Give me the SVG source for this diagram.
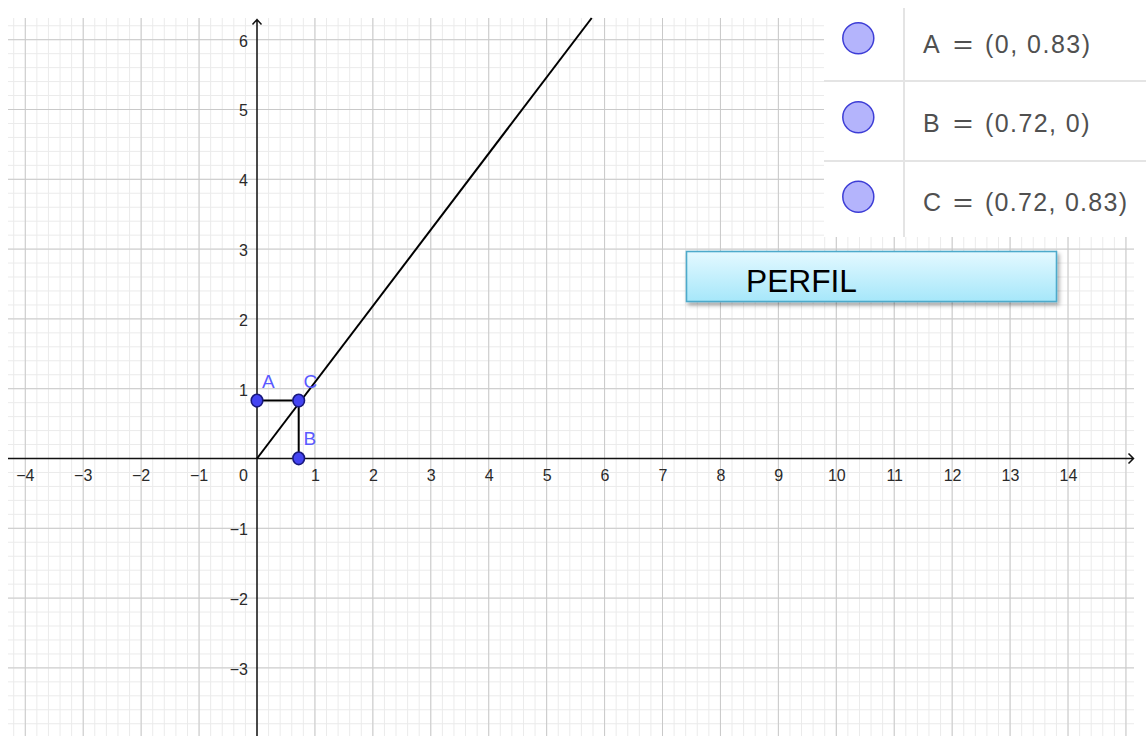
<svg xmlns="http://www.w3.org/2000/svg" width="1146" height="736" viewBox="0 0 1146 736">
<style>
.minor{stroke:#ebebeb;stroke-width:1;fill:none}
.major{stroke:#c9c9c9;stroke-width:1;fill:none}
.axis{stroke:#111;stroke-width:1.5;fill:none}
.lbl{font-family:"Liberation Sans",Arial,sans-serif;font-size:16px;fill:#2a2a2a}
.xl{text-anchor:middle}
.yl{text-anchor:end}
.plbl{font-family:"Liberation Sans",Arial,sans-serif;font-size:19px;fill:#5a5aff}
.pt{fill:#4444f2;stroke:#18187e;stroke-width:1.6}
.seg{stroke:#000;stroke-width:2;fill:none}
.tbl{font-family:"Liberation Sans",Arial,sans-serif;font-size:25px;fill:#505050}
.tc{fill:#b4b4fc;stroke:#3d3dd6;stroke-width:1.5}
.div{stroke:#e4e4e4;stroke-width:2}
</style>
<defs>
<linearGradient id="btnGrad" x1="0" y1="0" x2="0" y2="1">
<stop offset="0" stop-color="#e4f9ff"/>
<stop offset="1" stop-color="#a6e7fa"/>
</linearGradient>
<filter id="shadow" x="-5%" y="-20%" width="110%" height="160%">
<feDropShadow dx="2" dy="3" stdDeviation="2" flood-color="#000" flood-opacity="0.35"/>
</filter>
</defs>
<rect width="1146" height="736" fill="#fff"/>
<g id="grid">
<path class="minor" d="M13.69 18v718
m11.586-718v718m11.586-718v718m11.586-718v718m11.586-718v718m11.586-718v718m11.586-718v718m11.586-718v718m11.586-718v718
m11.586-718v718m11.586-718v718m11.586-718v718m11.586-718v718m11.586-718v718m11.586-718v718m11.586-718v718m11.586-718v718
m11.586-718v718m11.586-718v718m11.586-718v718m11.586-718v718m11.586-718v718m11.586-718v718m11.586-718v718m11.586-718v718
m11.586-718v718m11.586-718v718m11.586-718v718m11.586-718v718m11.586-718v718m11.586-718v718m11.586-718v718m11.586-718v718
m11.586-718v718m11.586-718v718m11.586-718v718m11.586-718v718m11.586-718v718m11.586-718v718m11.586-718v718m11.586-718v718
m11.586-718v718m11.586-718v718m11.586-718v718m11.586-718v718m11.586-718v718m11.586-718v718m11.586-718v718m11.586-718v718
m11.586-718v718m11.586-718v718m11.586-718v718m11.586-718v718m11.586-718v718m11.586-718v718m11.586-718v718m11.586-718v718
m11.586-718v718m11.586-718v718m11.586-718v718m11.586-718v718m11.586-718v718m11.586-718v718m11.586-718v718m11.586-718v718
m11.586-718v718m11.586-718v718m11.586-718v718m11.586-718v718m11.586-718v718m11.586-718v718m11.586-718v718m11.586-718v718
m11.586-718v718m11.586-718v718m11.586-718v718m11.586-718v718m11.586-718v718m11.586-718v718m11.586-718v718m11.586-718v718
m11.586-718v718m11.586-718v718m11.586-718v718m11.586-718v718m11.586-718v718m11.586-718v718m11.586-718v718m11.586-718v718
m11.586-718v718m11.586-718v718m11.586-718v718m11.586-718v718m11.586-718v718m11.586-718v718m11.586-718v718m11.586-718v718"/>
<path class="minor" d="M8 25.74h1126
m-1126 13.96h1126m-1126 13.96h1126m-1126 13.96h1126m-1126 13.96h1126m-1126 13.96h1126m-1126 13.96h1126m-1126 13.96h1126m-1126 13.96h1126m-1126 13.96h1126m-1126 13.96h1126
m-1126 13.96h1126m-1126 13.96h1126m-1126 13.96h1126m-1126 13.96h1126m-1126 13.96h1126m-1126 13.96h1126m-1126 13.96h1126m-1126 13.96h1126m-1126 13.96h1126m-1126 13.96h1126
m-1126 13.96h1126m-1126 13.96h1126m-1126 13.96h1126m-1126 13.96h1126m-1126 13.96h1126m-1126 13.96h1126m-1126 13.96h1126m-1126 13.96h1126m-1126 13.96h1126m-1126 13.96h1126
m-1126 13.96h1126m-1126 13.96h1126m-1126 13.96h1126m-1126 13.96h1126m-1126 13.96h1126m-1126 13.96h1126m-1126 13.96h1126m-1126 13.96h1126m-1126 13.96h1126m-1126 13.96h1126
m-1126 13.96h1126m-1126 13.96h1126m-1126 13.96h1126m-1126 13.96h1126m-1126 13.96h1126m-1126 13.96h1126m-1126 13.96h1126m-1126 13.96h1126m-1126 13.96h1126m-1126 13.96h1126"/>
<path class="major" d="M25.28 18V736M83.21 18V736M141.14 18V736M199.07 18V736M314.93 18V736M372.86 18V736M430.79 18V736M488.72 18V736M546.65 18V736M604.58 18V736M662.51 18V736M720.44 18V736M778.37 18V736M836.3 18V736M894.23 18V736M952.16 18V736M1010.09 18V736M1068.02 18V736M1125.95 18V736"/>
<path class="major" d="M8 39.7H1134M8 109.5H1134M8 179.3H1134M8 249.1H1134M8 318.9H1134M8 388.7H1134M8 528.3H1134M8 598.1H1134M8 667.9H1134"/>
</g>
<g id="axes">
<path class="axis" d="M257 736V19.5M252.5 24.5L257 19.5L261.5 24.5"/>
<path class="axis" d="M8 458.5H1133.5M1128.5 453.5L1133.5 458.5L1128.5 463.5"/>
</g>
<g id="axis-labels">
<text class="lbl xl" x="25.3" y="481">−4</text>
<text class="lbl xl" x="83.2" y="481">−3</text>
<text class="lbl xl" x="141.1" y="481">−2</text>
<text class="lbl xl" x="199.1" y="481">−1</text>
<text class="lbl yl" x="248" y="481">0</text>
<text class="lbl xl" x="315.5" y="481">1</text>
<text class="lbl xl" x="373.4" y="481">2</text>
<text class="lbl xl" x="431.3" y="481">3</text>
<text class="lbl xl" x="489.2" y="481">4</text>
<text class="lbl xl" x="547.1" y="481">5</text>
<text class="lbl xl" x="605" y="481">6</text>
<text class="lbl xl" x="663" y="481">7</text>
<text class="lbl xl" x="720.9" y="481">8</text>
<text class="lbl xl" x="778.8" y="481">9</text>
<text class="lbl xl" x="836.8" y="481">10</text>
<text class="lbl xl" x="894.7" y="481">11</text>
<text class="lbl xl" x="952.6" y="481">12</text>
<text class="lbl xl" x="1010.5" y="481">13</text>
<text class="lbl xl" x="1068.5" y="481">14</text>
<text class="lbl yl" x="248" y="46.5">6</text>
<text class="lbl yl" x="248" y="116.3">5</text>
<text class="lbl yl" x="248" y="186.1">4</text>
<text class="lbl yl" x="248" y="255.9">3</text>
<text class="lbl yl" x="248" y="325.7">2</text>
<text class="lbl yl" x="248" y="395.5">1</text>
<text class="lbl yl" x="248" y="535.2">−1</text>
<text class="lbl yl" x="248" y="605">−2</text>
<text class="lbl yl" x="248" y="674.8">−3</text>
</g>
<g id="connectors">
<path id="line-f" class="seg" d="M257 458.5L591.7 18"/>
<path id="seg-AC" class="seg" d="M257 400.6H298.7"/>
<path id="seg-CB" class="seg" d="M298.7 400.6V458.5"/>
</g>
<g id="point-A">
<ellipse class="pt" cx="257" cy="400.6" rx="5.8" ry="6.3"/>
<text class="plbl" x="262" y="387.5">A</text>
</g>
<g id="point-C">
<ellipse class="pt" cx="298.7" cy="400.6" rx="5.8" ry="6.3"/>
<text class="plbl" x="303.5" y="387.5">C</text>
</g>
<g id="point-B">
<ellipse class="pt" cx="298.7" cy="458.3" rx="5.8" ry="6.3"/>
<text class="plbl" x="303.5" y="444.5">B</text>
</g>
<g id="algebra-table">
<rect x="824" y="0" width="322" height="237" fill="#fff"/>
<line class="div" x1="904" y1="8" x2="904" y2="237"/>
<line class="div" x1="824" y1="81" x2="1146" y2="81"/>
<line class="div" x1="824" y1="161" x2="1146" y2="161"/>
<circle class="tc" cx="858.3" cy="38.3" r="15.5"/>
<circle class="tc" cx="858.3" cy="117.3" r="15.5"/>
<circle class="tc" cx="858.3" cy="196.7" r="15.5"/>
<text class="tbl" x="923" y="52.7">A</text>
<text class="tbl" x="953" y="52.7" textLength="20" lengthAdjust="spacingAndGlyphs">=</text>
<text class="tbl" x="985" y="52.7" textLength="105" lengthAdjust="spacing">(0, 0.83)</text>
<text class="tbl" x="923" y="131.7">B</text>
<text class="tbl" x="953" y="131.7" textLength="20" lengthAdjust="spacingAndGlyphs">=</text>
<text class="tbl" x="985" y="131.7" textLength="104.5" lengthAdjust="spacing">(0.72, 0)</text>
<text class="tbl" x="923" y="210.7">C</text>
<text class="tbl" x="953" y="210.7" textLength="20" lengthAdjust="spacingAndGlyphs">=</text>
<text class="tbl" x="985" y="210.7" textLength="142" lengthAdjust="spacing">(0.72, 0.83)</text>
</g>
<g id="button-perfil">
<rect x="686.5" y="251.5" width="370" height="50" fill="url(#btnGrad)" stroke="#4eaacb" stroke-width="1.6" filter="url(#shadow)"/>
<text x="746" y="292" font-family="Liberation Sans, Arial, sans-serif" font-size="31" fill="#000" textLength="111" lengthAdjust="spacingAndGlyphs">PERFIL</text>
</g>
</svg>
